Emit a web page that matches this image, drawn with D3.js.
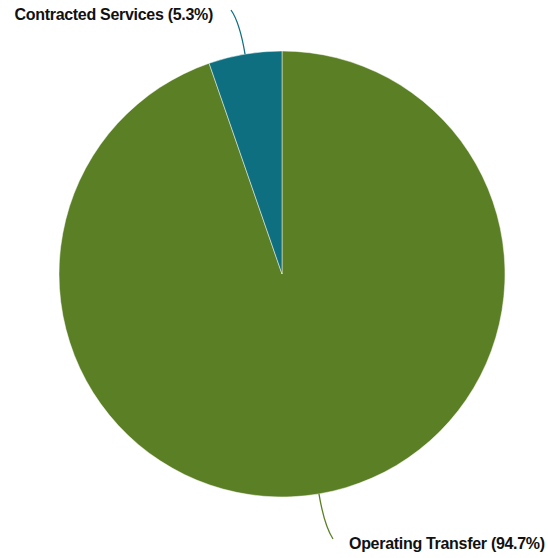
<!DOCTYPE html>
<html>
<head>
<meta charset="utf-8">
<script src="https://cdn.jsdelivr.net/npm/d3@7"></script>
<style>
  html, body { margin: 0; padding: 0; background: #fff; }
  svg { display: block; }
</style>
</head>
<body>
<svg id="chart" width="548" height="558"></svg>
<script>
const categories = ["Operating Transfer", "Contracted Services"];
const values = [94.7, 5.3];
const colors = ["#5a7f24", "#0e6f80"];
const labelEnds = [[333, 539], [231, 10]];

const width = 548, height = 558;
const cx = 282, cy = 274, r = 223;

const svg = d3.select("#chart");
const g = svg.append("g").attr("transform", `translate(${cx},${cy})`);

const data = categories.map((c, i) => ({ name: c, value: values[i], color: colors[i], end: labelEnds[i] }));
const pie = d3.pie().value(d => d.value).sort(null);
const arcs = pie(data);
const arc = d3.arc().innerRadius(0).outerRadius(r);

g.selectAll("path.slice")
  .data(arcs)
  .join("path")
  .attr("class", "slice")
  .attr("d", arc)
  .attr("fill", d => d.data.color)
  .attr("stroke", "#ffffff")
  .attr("stroke-opacity", 0.6)
  .attr("stroke-width", 0.8);

function polar(angle, rad) {
  return [rad * Math.sin(angle), -rad * Math.cos(angle)];
}

arcs.forEach(d => {
  const mid = (d.startAngle + d.endAngle) / 2;
  const p0 = polar(mid, r);
  const p1 = polar(mid, r + 32);
  const p2 = [d.data.end[0] - cx, d.data.end[1] - cy];
  const path = d3.path();
  path.moveTo(p0[0], p0[1]);
  path.quadraticCurveTo(p1[0], p1[1], p2[0], p2[1]);
  g.append("path")
    .attr("d", path.toString())
    .attr("fill", "none")
    .attr("stroke", d.data.color)
    .attr("stroke-width", 1.3);
  const right = p2[0] > 0;
  const pct = d3.format(".1f")(d.data.value / d3.sum(values) * 100);
  g.append("text")
    .attr("x", p2[0] + (right ? 16 : -18))
    .attr("y", p2[1] + 10)
    .attr("text-anchor", right ? "start" : "end")
    .attr("font-family", "Liberation Sans, Arial, sans-serif")
    .attr("font-weight", "bold")
    .attr("font-size", 16)
    .attr("letter-spacing", "-0.3px")
    .attr("fill", "#111")
    .text(`${d.data.name} (${pct}%)`);
});
</script>
</body>
</html>
